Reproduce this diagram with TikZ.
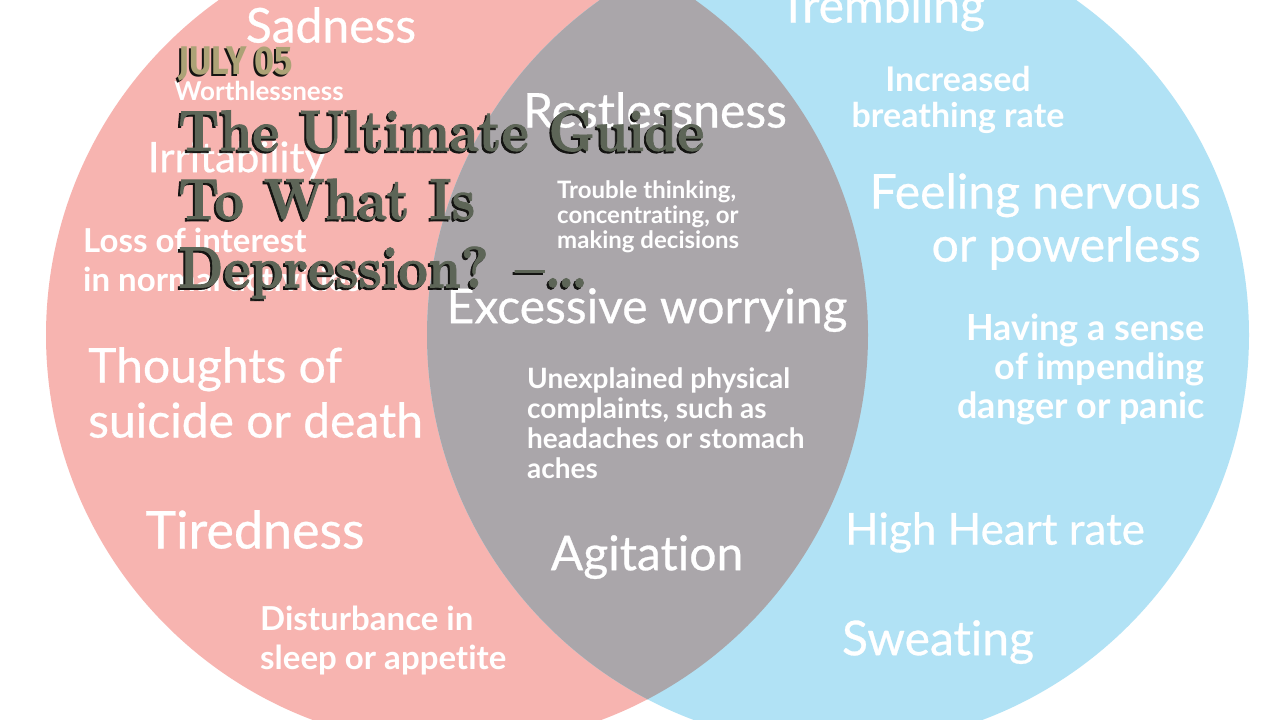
\documentclass[tikz,border=0pt]{standalone}
\usepackage{fontspec}
\newfontfamily\latofont{Lato}[Ligatures=NoCommon]
\newfontfamily\latomed{Lato}[Ligatures=NoCommon, FakeBold=0.6]
\newfontfamily\datefont{Fira Sans}
\newfontfamily\titlefont{lmroman10-bold.otf}[FakeBold=1.4]
\definecolor{vennred}{RGB}{247,180,176}
\definecolor{vennblue}{RGB}{177,226,245}
\definecolor{venngray}{RGB}{170,166,170}
\definecolor{titleink}{RGB}{93,101,87}
\definecolor{dateink}{RGB}{172,162,118}
\definecolor{shadeink}{RGB}{20,20,18}
\tikzset{
  sym/.style 2 args={text=white, inner sep=0pt, font=\latomed\fontsize{#1}{#2}\selectfont},
  symb/.style 2 args={text=white, inner sep=0pt, font=\latofont\bfseries\fontsize{#1}{#2}\selectfont},
  titletext/.style={inner sep=0pt, align=left, anchor=north west, xscale=0.99, yscale=1.12, transform shape,
      font=\titlefont\fontsize{52}{61}\selectfont},
  datetext/.style={inner sep=0pt, anchor=north west, xscale=0.86, transform shape,
      font=\datefont\bfseries\fontsize{40}{40}\selectfont},
}

\begin{document}
\begin{tikzpicture}[x=1pt, y=-1pt]
  \useasboundingbox (0,0) rectangle (1280,720);
  \clip (0,0) rectangle (1280,720);
  \fill[white] (0,0) rectangle (1280,720);
  % the two sets
  \fill[vennred] (457,335) circle[radius=411];
  \fill[vennblue] (838,335) circle[radius=411];
  \begin{scope}
    \clip (457,335) circle[radius=411];
    \fill[venngray] (838,335) circle[radius=411];
  \end{scope}
  % depression side
  \node[sym={48}{55}, anchor=north] (sadness) at (331,7) {Sadness};
  \node[symb={26}{30}, anchor=north] (worthless) at (259,81) {Worthlessness};
  \node[sym={42}{48}, anchor=north] (irritab) at (237,141) {Irritability};
  \node[symb={33}{39}, anchor=north west, align=left] (lossint) at (83,228) {Loss of interest\\in normal activities};
  \node[sym={48}{55}, anchor=north west, align=left] (thoughts) at (88,347) {Thoughts of\\suicide or death};
  \node[sym={52}{55}, anchor=north] (tired) at (255,510) {Tiredness};
  \node[symb={33}{39}, anchor=north west, align=left] (disturb) at (260,606) {Disturbance in\\sleep or appetite};
  % shared
  \node[sym={48}{55}, anchor=north] (restless) at (655,92) {Restlessness};
  \node[symb={24}{25}, anchor=north west, align=left] (trouble) at (557,180) {Trouble thinking,\\concentrating, or\\making decisions};
  \node[sym={48}{55}, anchor=north] (excess) at (647,288) {Excessive worrying};
  \node[symb={28}{30}, anchor=north west, align=left] (unexpl) at (527,367) {Unexplained physical\\complaints, such as\\headaches or stomach\\aches};
  \node[sym={48}{55}, anchor=north] (agit) at (647,535) {Agitation};
  % anxiety side
  \node[sym={48}{55}, anchor=north] (trembl) at (882,-13) {Trembling};
  \node[symb={34}{36}, anchor=north, align=center] (breath) at (958,66) {Increased\\breathing rate};
  \node[sym={48}{53}, anchor=north east, align=right] (nervous) at (1201,173) {Feeling nervous\\or powerless};
  \node[symb={36}{39}, anchor=north east, align=right] (impend) at (1205,314) {Having a sense\\of impending\\danger or panic};
  \node[sym={44}{55}, anchor=north] (heart) at (995,512) {High Heart rate};
  \node[sym={48}{55}, anchor=north] (sweat) at (938,620) {Sweating};
  % headline on top
  \node[datetext, text=shadeink] (dateshade) at (176,49) {JULY 05};
  \node[datetext, text=dateink] (date) at (178,47) {JULY 05};
  \node[titletext, text=shadeink] (titleshade) at (176,112) {The Ultimate Guide\\To What Is\\Depression? –…};
  \node[titletext, text=titleink] (title) at (178,110) {The Ultimate Guide\\To What Is\\Depression? –…};
\end{tikzpicture}
\end{document}
